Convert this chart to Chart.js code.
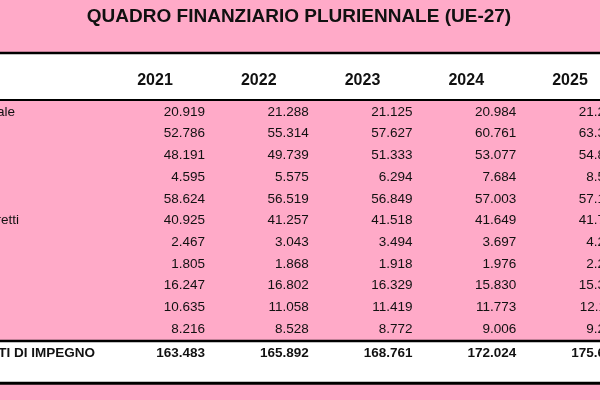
<!DOCTYPE html>
<html>
<head>
<meta charset="utf-8">
<script src="https://cdn.jsdelivr.net/npm/chart.js@4"></script>
<style>
  html, body { margin: 0; padding: 0; background: #ffaac8; }
  canvas { display: block; }
</style>
</head>
<body>
<canvas id="quadro" width="600" height="400"></canvas>
<script>
const title = "QUADRO FINANZIARIO PLURIENNALE (UE-27)";
const years = ["2021", "2022", "2023", "2024", "2025"];
const rowLabels = [
  "1. Mercato unico, innovazione e agenda digitale",
  "2. Coesione, resilienza e valori",
  "2a. Coesione economica, sociale e territoriale",
  "2b. Resilienza e valori",
  "3. Risorse naturali e ambiente",
  "di cui: spese connesse al mercato e pagamenti diretti",
  "4. Migrazione e gestione delle frontiere",
  "5. Sicurezza e difesa",
  "6. Vicinato e resto del mondo",
  "7. Pubblica amministrazione europea",
  "di cui: spese amministrative delle istituzioni",
];
const values2021 = [20919, 52786, 48191, 4595, 58624, 40925, 2467, 1805, 16247, 10635, 8216];
const values2022 = [21288, 55314, 49739, 5575, 56519, 41257, 3043, 1868, 16802, 11058, 8528];
const values2023 = [21125, 57627, 51333, 6294, 56849, 41518, 3494, 1918, 16329, 11419, 8772];
const values2024 = [20984, 60761, 53077, 7684, 57003, 41649, 3697, 1976, 15830, 11773, 9006];
const values2025 = [21272, 63395, 54832, 8563, 57127, 41703, 4219, 2218, 15317, 12117, 9289];
const totalLabel = "TOTALE STANZIAMENTI DI IMPEGNO";
const totals = [163483, 165892, 168761, 172024, 175662];

const columns = [values2021, values2022, values2023, values2024, values2025];
const fmt = new Intl.NumberFormat("it-IT");

// label end positions (x pixel) for the cut-off first column
const labelEnds = { 0: 15, 5: 19 };

const points = [];
columns.forEach((col, c) => col.forEach((v, r) => points.push({ x: c, y: r, v })));
totals.forEach((v, c) => points.push({ x: c, y: 11.1, v, total: true }));

const FONT = "'Liberation Sans', Arial, sans-serif";

const tablePlugin = {
  id: "table",
  beforeDraw(chart) {
    const { ctx, scales: { y } } = chart;
    ctx.save();
    ctx.fillStyle = "#ffaac8";
    ctx.fillRect(0, 0, chart.width, chart.height);
    // white bands
    ctx.fillStyle = "#ffffff";
    ctx.fillRect(0, y.getPixelForValue(-2.72), chart.width, y.getPixelForValue(-0.55) - y.getPixelForValue(-2.72));
    ctx.fillRect(0, y.getPixelForValue(10.55), chart.width, y.getPixelForValue(12.5) - y.getPixelForValue(10.55));
    ctx.strokeStyle = "#000";
    [[-2.72, 2.5], [-0.55, 2], [10.55, 2.5], [12.5, 3]].forEach(([v, w]) => {
      const py = y.getPixelForValue(v);
      ctx.lineWidth = w;
      ctx.beginPath();
      ctx.moveTo(0, py);
      ctx.lineTo(chart.width, py);
      ctx.stroke();
    });
    ctx.restore();
  },
  afterDatasetsDraw(chart) {
    const { ctx, scales: { x, y } } = chart;
    ctx.save();
    ctx.fillStyle = "#111";
    ctx.textBaseline = "middle";
    ctx.font = "bold 19px " + FONT;
    ctx.textAlign = "center";
    ctx.fillText(title, 299, y.getPixelForValue(-4.38));

    ctx.font = "bold 16px " + FONT;
    years.forEach((yr, c) => ctx.fillText(yr, x.getPixelForValue(c) - 50, y.getPixelForValue(-1.47)));

    ctx.textAlign = "right";
    chart.data.datasets[0].data.forEach((p) => {
      ctx.font = (p.total ? "bold " : "") + "13.5px " + FONT;
      ctx.fillText(fmt.format(p.v), x.getPixelForValue(p.x), y.getPixelForValue(p.y));
    });

    ctx.font = "13.5px " + FONT;
    rowLabels.forEach((label, r) => {
      const end = labelEnds[r] !== undefined ? labelEnds[r] : -5;
      ctx.fillText(label, end, y.getPixelForValue(r));
    });
    ctx.font = "bold 13.5px " + FONT;
    ctx.fillText(totalLabel, 95, y.getPixelForValue(11.1));
    ctx.restore();
  },
};

new Chart(document.getElementById("quadro"), {
  type: "scatter",
  data: {
    datasets: [{ data: points, pointRadius: 0, pointHoverRadius: 0 }],
  },
  options: {
    responsive: false,
    animation: false,
    layout: { padding: 0 },
    plugins: { legend: { display: false }, tooltip: { enabled: false } },
    scales: {
      x: { type: "linear", display: false, min: -205 / 103.75, max: 395 / 103.75 },
      y: { type: "linear", display: false, reverse: true, min: -112 / 21.7, max: 288 / 21.7 },
    },
  },
  plugins: [tablePlugin],
});
</script>
</body>
</html>
